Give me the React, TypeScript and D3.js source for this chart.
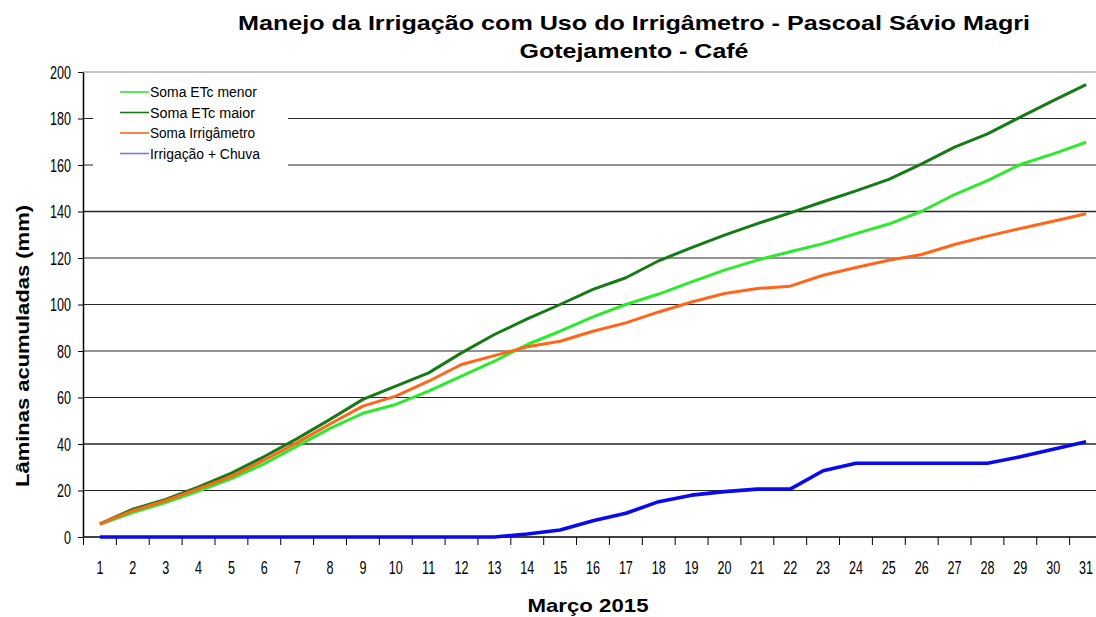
import React, { useEffect, useRef } from "react";
import * as d3 from "d3";

// March 2015, daily accumulated depths (mm)
const days = [
  "1", "2", "3", "4", "5", "6", "7", "8", "9", "10", "11", "12", "13", "14", "15", "16",
  "17", "18", "19", "20", "21", "22", "23", "24", "25", "26", "27", "28", "29", "30", "31",
];

const somaEtcMenor = [
  5.4, 10.5, 14.8, 19.8, 25.1, 31.5, 39.1, 46.7, 53.2, 57, 62.7, 69.2, 75.6, 82.8, 88.5, 94.7,
  100, 104.5, 109.7, 114.8, 119.1, 122.7, 126.2, 130.5, 134.6, 140.1, 147.3, 153.3, 160.2, 164.8, 169.8,
];

const somaEtcMaior = [
  5.6, 12, 16.2, 21.6, 27.5, 34.6, 42.3, 50.6, 59.2, 64.9, 70.6, 79.2, 87.1, 93.8, 100, 106.5,
  111.5, 118.8, 124.5, 129.8, 134.8, 139.4, 144.2, 148.9, 153.8, 160.5, 167.7, 173.4, 180.6, 187.7, 194.6,
];

const somaIrrigametro = [
  5.6, 11.3, 15.6, 20.8, 26.1, 33.1, 40.6, 48.6, 56.3, 60.6, 67, 74.2, 78, 81.8, 84.2, 88.5,
  92.1, 96.8, 101.1, 104.7, 106.9, 107.9, 112.6, 115.9, 119, 121.5, 125.8, 129.4, 132.7, 135.8, 139,
];

const irrigacaoChuva = [
  0, 0, 0, 0, 0, 0, 0, 0, 0, 0, 0, 0, 0, 1.3, 3, 7,
  10.2, 15.2, 18, 19.5, 20.6, 20.6, 28.5, 31.7, 31.7, 31.7, 31.7, 31.7, 34.5, 37.7, 41,
];

const yTicks = [0, 20, 40, 60, 80, 100, 120, 140, 160, 180, 200];

const seriesNames = ["Soma ETc menor", "Soma ETc maior", "Soma Irrigâmetro", "Irrigação + Chuva"];
const seriesColors = ["#2eea2e", "#167a16", "#ff661a", "#0a0aee"];
const legendColors = ["#2eea2e", "#167a16", "#ff661a", "#7a78e0"];

const useD3 = (render: (svg: any) => void, deps: any[]) => {
  const ref = useRef<SVGSVGElement>(null);
  useEffect(() => {
    render(d3.select(ref.current));
  }, deps);
  return ref;
};

const App = () => {
  const ref = useD3((svg) => {
    const width = 1096;
    const height = 617;
    const plotLeft = 83;
    const plotRight = 1102.5;
    const plotTop = 72;
    const plotBottom = 537;
    const font = "'Liberation Sans', Arial, sans-serif";
    const squeeze = 0.7; // tick labels look horizontally compressed

    svg.selectAll("*").remove();
    svg.attr("width", width).attr("height", height);

    const x = d3.scaleBand().domain(days).range([plotLeft + 0.5, plotRight]).padding(0);
    const y = d3.scaleLinear().domain([0, 200]).range([plotBottom, plotTop]);
    const cx = (d: string) => (x(d) as number) + x.bandwidth() / 2;

    // gridlines
    svg
      .append("g")
      .selectAll("line")
      .data(yTicks.filter((t) => t > 0))
      .enter()
      .append("line")
      .attr("x1", plotLeft)
      .attr("x2", width)
      .attr("y1", (d) => y(d))
      .attr("y2", (d) => y(d))
      .style("stroke", (d) => (d === 200 ? "#8a8a8a" : "#262626"))
      .style("stroke-width", (d) => (d === 40 || d === 140 ? 1.7 : 1.2));

    // y axis
    const yAxis = svg
      .append("g")
      .attr("transform", `translate(${plotLeft},0)`)
      .call(d3.axisLeft(y).tickValues(yTicks).tickSize(5).tickSizeOuter(0));
    yAxis.select(".domain").style("stroke", "#000").style("stroke-width", 1.5);
    yAxis.selectAll(".tick line").style("stroke", "#000");
    yAxis
      .selectAll(".tick text")
      .attr("x", -12 / squeeze)
      .attr("dy", "0.36em")
      .attr("transform", `scale(${squeeze},1)`)
      .style("font-family", font)
      .style("font-size", "18px")
      .style("fill", "#000");

    // x axis
    const xAxis = svg.append("g");
    xAxis
      .append("line")
      .attr("x1", plotLeft)
      .attr("x2", width)
      .attr("y1", plotBottom)
      .attr("y2", plotBottom)
      .style("stroke", "#000")
      .style("stroke-width", 1.6);
    xAxis
      .selectAll(".xtick")
      .data(days)
      .enter()
      .append("line")
      .attr("x1", (d) => x(d) as number)
      .attr("x2", (d) => x(d) as number)
      .attr("y1", plotBottom)
      .attr("y2", plotBottom + 8)
      .style("stroke", "#000");
    xAxis
      .selectAll(".xlabel")
      .data(days)
      .enter()
      .append("text")
      .attr("transform", (d) => `translate(${cx(d)},${plotBottom + 37}) scale(${squeeze},1)`)
      .attr("text-anchor", "middle")
      .style("font-family", font)
      .style("font-size", "18px")
      .text((d) => d);

    // series lines
    const series = [somaEtcMenor, somaEtcMaior, somaIrrigametro, irrigacaoChuva];
    const line = d3
      .line<number>()
      .x((_, i) => cx(days[i]))
      .y((v) => y(v));

    series.forEach((values, i) => {
      svg
        .append("path")
        .datum(values)
        .attr("d", line)
        .style("fill", "none")
        .style("stroke", seriesColors[i])
        .style("stroke-width", i === 3 ? 3.6 : 3)
        .style("stroke-linejoin", "round");
    });

    // legend box
    const legend = svg.append("g");
    legend
      .append("rect")
      .attr("x", 93)
      .attr("y", 77)
      .attr("width", 195)
      .attr("height", 95)
      .style("fill", "#fff");
    const legendWidths = [107, 105, 105, 110];
    seriesNames.forEach((name, i) => {
      const ly = 92 + i * 20.5;
      legend
        .append("line")
        .attr("x1", 120)
        .attr("x2", 149)
        .attr("y1", ly)
        .attr("y2", ly)
        .style("stroke", legendColors[i])
        .style("stroke-width", 1.6);
      legend
        .append("text")
        .attr("x", 150)
        .attr("y", ly + 5)
        .attr("textLength", legendWidths[i])
        .attr("lengthAdjust", "spacingAndGlyphs")
        .style("font-family", font)
        .style("font-size", "14px")
        .text(name);
    });

    // titles
    svg
      .append("text")
      .attr("x", 634)
      .attr("y", 30)
      .attr("text-anchor", "middle")
      .attr("textLength", 792)
      .attr("lengthAdjust", "spacingAndGlyphs")
      .style("font-family", font)
      .style("font-weight", "bold")
      .style("font-size", "21px")
      .text("Manejo da Irrigação com Uso do Irrigâmetro - Pascoal Sávio Magri");
    svg
      .append("text")
      .attr("x", 634)
      .attr("y", 58)
      .attr("text-anchor", "middle")
      .attr("textLength", 229)
      .attr("lengthAdjust", "spacingAndGlyphs")
      .style("font-family", font)
      .style("font-weight", "bold")
      .style("font-size", "21px")
      .text("Gotejamento - Café");

    svg
      .append("text")
      .attr("x", 588)
      .attr("y", 612)
      .attr("text-anchor", "middle")
      .attr("textLength", 121)
      .attr("lengthAdjust", "spacingAndGlyphs")
      .style("font-family", font)
      .style("font-weight", "bold")
      .style("font-size", "19px")
      .text("Março 2015");

    svg
      .append("text")
      .attr("transform", "translate(29,346) rotate(-90)")
      .attr("text-anchor", "middle")
      .attr("textLength", 282)
      .attr("lengthAdjust", "spacingAndGlyphs")
      .style("font-family", font)
      .style("font-weight", "bold")
      .style("font-size", "19px")
      .text("Lâminas acumuladas (mm)");
  }, []);

  return (
    <div className="lineChart">
      <svg ref={ref} style={{ position: "absolute", left: 0, top: 0, background: "#fff" }}></svg>
    </div>
  );
};

export default App;
